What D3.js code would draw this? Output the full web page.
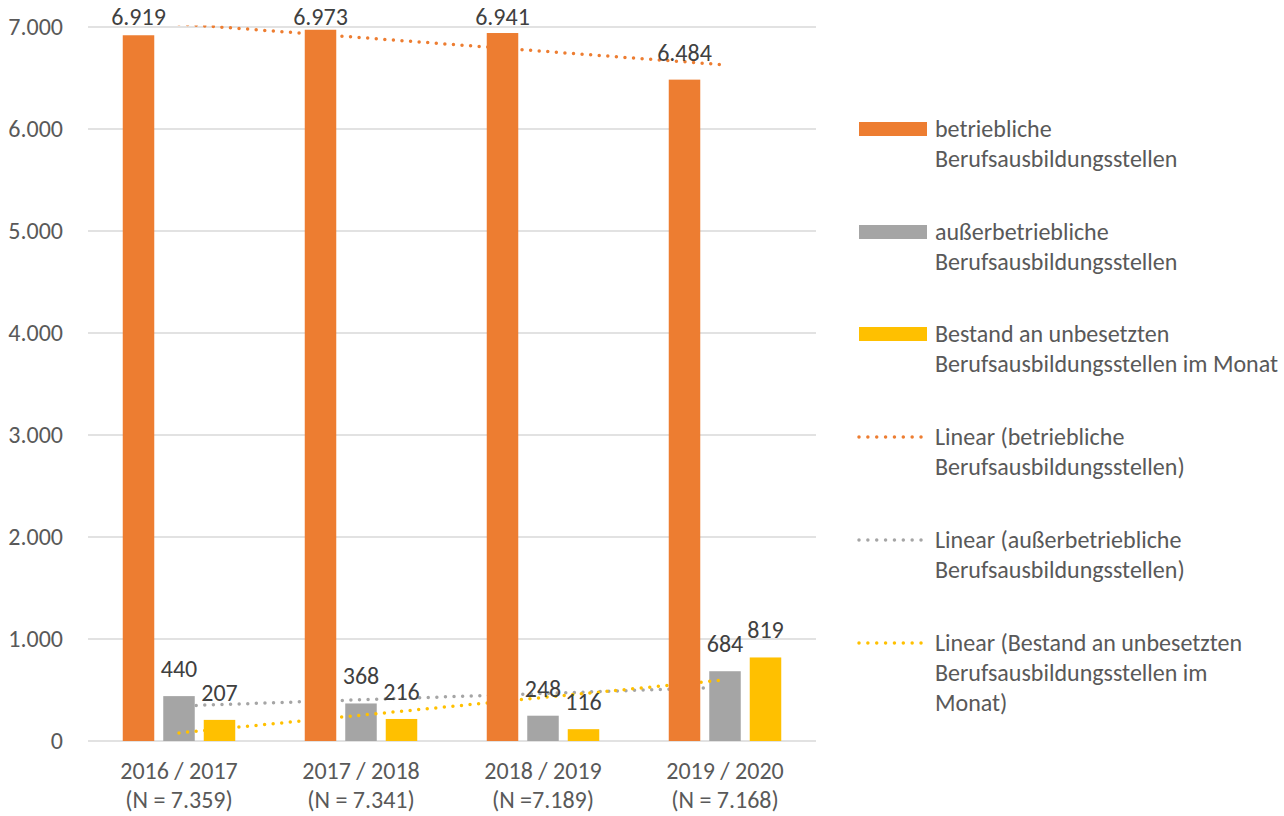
<!DOCTYPE html>
<html>
<head>
<meta charset="utf-8">
<script src="https://cdn.jsdelivr.net/npm/d3@7"></script>
<style>
  body { margin: 0; background: #fff; }
  text { font-family: Carlito, Calibri, "Open Sans", sans-serif; }
</style>
</head>
<body>
<script>
// categories and series
const years = ["2016 / 2017", "2017 / 2018", "2018 / 2019", "2019 / 2020"];
const nLabels = ["(N = 7.359)", "(N = 7.341)", "(N =7.189)", "(N = 7.168)"];
const betrieblich = [6919, 6973, 6941, 6484];
const ausserbetrieblich = [440, 368, 248, 684];
const unbesetzt = [207, 216, 116, 819];
const yTicks = [0, 1000, 2000, 3000, 4000, 5000, 6000, 7000];

const legendLines = [
  ["betriebliche", "Berufsausbildungsstellen"],
  ["außerbetriebliche", "Berufsausbildungsstellen"],
  ["Bestand an unbesetzten", "Berufsausbildungsstellen im Monat"],
  ["Linear (betriebliche", "Berufsausbildungsstellen)"],
  ["Linear (außerbetriebliche", "Berufsausbildungsstellen)"],
  ["Linear (Bestand an unbesetzten", "Berufsausbildungsstellen im", "Monat)"]
];
const colors = ["#ED7D31", "#A5A5A5", "#FFC000"];

const series = [betrieblich, ausserbetrieblich, unbesetzt];

let w = 1284;
let h = 816;
let pLeft = 88, pRight = 816, pTop = 27, pBottom = 741;

const fmt = d3.formatLocale({decimal: ",", thousands: ".", grouping: [3], currency: ["", "€"]}).format(",d");

const svg = d3.select("body")
  .append("svg")
  .attr("width", w)
  .attr("height", h);

const x0 = d3.scaleBand()
  .domain(years)
  .range([pLeft, pRight]);

const x1 = d3.scaleBand()
  .domain([0, 1, 2])
  .range([-56.25, 56.25])
  .paddingInner(0.222);

const yScale = d3.scaleLinear()
  .domain([0, 7000])
  .range([pBottom, pTop]);

// gridlines
svg.append("g")
  .selectAll("line")
  .data(yTicks)
  .enter()
  .append("line")
  .attr("x1", pLeft)
  .attr("x2", pRight)
  .attr("y1", d => yScale(d))
  .attr("y2", d => yScale(d))
  .attr("stroke", "#D9D9D9")
  .attr("stroke-width", 1.3);

// y axis labels
const yAxis = d3.axisLeft(yScale).tickValues(yTicks).tickFormat(fmt).tickSize(0).tickPadding(0);
const gy = svg.append("g")
  .attr("transform", "translate(63,0)")
  .call(yAxis);
gy.select(".domain").remove();
gy.selectAll("text")
  .attr("fill", "#595959")
  .style("font-size", "24px")
  .attr("dy", "0.33em");

// x axis labels
const gx = svg.append("g");
gx.selectAll("text.yr")
  .data(years)
  .enter()
  .append("text")
  .attr("class", "yr")
  .attr("x", d => x0(d) + x0.bandwidth() / 2)
  .attr("y", 779)
  .attr("text-anchor", "middle")
  .attr("fill", "#595959")
  .style("font-size", "24px")
  .text(d => d);
gx.selectAll("text.n")
  .data(nLabels)
  .enter()
  .append("text")
  .attr("class", "n")
  .attr("x", (d, i) => x0(years[i]) + x0.bandwidth() / 2)
  .attr("y", 808)
  .attr("text-anchor", "middle")
  .attr("fill", "#595959")
  .style("font-size", "24px")
  .text(d => d);

// linear trendlines (least squares over category index)
function trend(vals) {
  const n = vals.length;
  const xs = d3.range(1, n + 1);
  const mx = d3.mean(xs), my = d3.mean(vals);
  const b = d3.sum(xs, (x, i) => (x - mx) * (vals[i] - my)) / d3.sum(xs, x => (x - mx) * (x - mx));
  const a = my - b * mx;
  return xs.map((x, i) => [years[i], a + b * x]);
}

svg.append("clipPath").attr("id", "plot")
  .append("rect").attr("x", pLeft).attr("y", pTop - 1.6).attr("width", pRight - pLeft).attr("height", pBottom - pTop + 1.6);

const line = d3.line()
  .x(d => x0(d[0]) + x0.bandwidth() / 2)
  .y(d => yScale(d[1]));

function drawTrend(k) {
  svg.append("path")
    .datum(trend(series[k]))
    .attr("d", line)
    .attr("clip-path", "url(#plot)")
    .attr("fill", "none")
    .attr("stroke", colors[k])
    .attr("stroke-width", 3.5)
    .attr("stroke-linecap", "round")
    .attr("stroke-dasharray", "0 8.6");
}

function drawBars(k) {
  svg.append("g")
    .selectAll("rect")
    .data(series[k])
    .enter()
    .append("rect")
    .attr("x", (d, i) => x0(years[i]) + x0.bandwidth() / 2 + x1(k))
    .attr("y", d => yScale(d))
    .attr("width", x1.bandwidth())
    .attr("height", d => pBottom - yScale(d))
    .attr("fill", colors[k]);
}

// stacking order as in the original
drawTrend(0);
drawTrend(1);
drawBars(1);
drawTrend(2);
drawBars(0);
drawBars(2);

// data labels
series.forEach(function(vals, k) {
  svg.append("g")
    .selectAll("text")
    .data(vals)
    .enter()
    .append("text")
    .attr("x", (d, i) => x0(years[i]) + x0.bandwidth() / 2 + x1(k) + x1.bandwidth() / 2)
    .attr("y", d => Math.max(yScale(d) - 19, 25))
    .attr("text-anchor", "middle")
    .attr("fill", "#404040")
    .style("font-size", "24px")
    .text(d => fmt(d));
});

// legend
const legendY = [129, 232, 334, 437, 540, 643];
const lg = svg.append("g");
legendLines.forEach(function(lines, i) {
  const k = i % 3;
  if (i < 3) {
    lg.append("rect")
      .attr("x", 859)
      .attr("y", legendY[i] - 7)
      .attr("width", 68)
      .attr("height", 14)
      .attr("fill", colors[k]);
  } else {
    lg.append("line")
      .attr("x1", 859)
      .attr("x2", 922)
      .attr("y1", legendY[i])
      .attr("y2", legendY[i])
      .attr("stroke", colors[k])
      .attr("stroke-width", 3.5)
      .attr("stroke-linecap", "round")
      .attr("stroke-dasharray", "0 8.86");
  }
  lg.append("text")
    .attr("x", 935)
    .attr("y", legendY[i] + 7.5)
    .attr("fill", "#595959")
    .style("font-size", "24px")
    .selectAll("tspan")
    .data(lines)
    .enter()
    .append("tspan")
    .attr("x", 935)
    .attr("dy", (d, j) => j === 0 ? 0 : 30)
    .text(d => d);
});
</script>
</body>
</html>
